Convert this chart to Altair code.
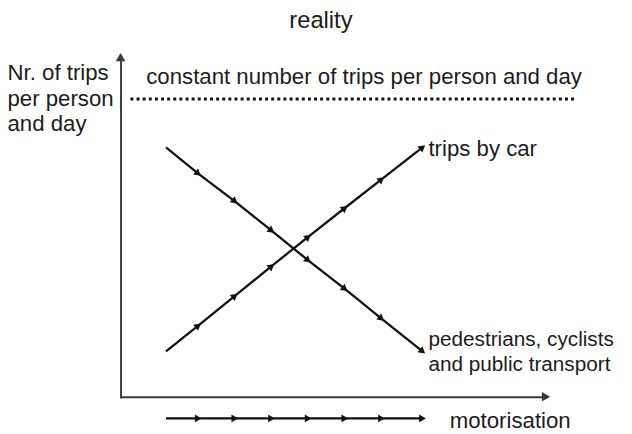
import altair as alt
import pandas as pd

# ---- data (schematic values) ----
# motorisation level of the line start, the arrowheads along the lines, and the line end
motorisation = [0.0, 0.88, 1.88, 2.88, 3.88, 4.88, 5.88, 7.0]
trips_car = [1.0, 1.88, 2.90, 3.92, 4.93, 5.92, 6.90, 8.0]
trips_other = [8.0, 7.10, 6.15, 5.14, 4.12, 3.14, 2.12, 1.0]
constant_trips = 9.66
constant_span = [-0.97, 11.17]
motorisation_arrow_level = -1.305

series_names = ["trips by car", "pedestrians, cyclists and public transport"]
constant_label = "constant number of trips per person and day"
car_label = "trips by car"
other_label = ["pedestrians, cyclists", "and public transport"]
y_title = ["Nr. of trips", "per person", "and day"]
x_title = "motorisation"
chart_title = "reality"

x_domain = [-1.24, 10.37]
y_domain = [-0.56, 11.10]

FONT = "Liberation Sans"
FS = 22.5
TXT = "#1c1c1c"
INK = "#111111"
AXIS = "#3a3a3a"

# ---- tables ----
lines = pd.DataFrame(
    [{"series": series_names[0], "x": m, "y": v} for m, v in zip(motorisation, trips_car)]
    + [{"series": series_names[1], "x": m, "y": v} for m, v in zip(motorisation, trips_other)]
)
car_marks = pd.DataFrame({"x": motorisation[1:], "y": trips_car[1:]})
other_marks = pd.DataFrame({"x": motorisation[1:], "y": trips_other[1:]})
const_df = pd.DataFrame({"x": constant_span, "y": [constant_trips] * 2})
mot_line = pd.DataFrame({"x": [motorisation[0], motorisation[-1]], "y": [motorisation_arrow_level] * 2})
mot_marks = pd.DataFrame({"x": motorisation[1:], "y": [motorisation_arrow_level] * (len(motorisation) - 1)})
axis_heads = pd.DataFrame({
    "x": [x_domain[1], x_domain[0]],
    "y": [y_domain[0], y_domain[1]],
    "shape": ["triangle-right", "triangle-up"],
})
car_lab = pd.DataFrame({"x": [motorisation[-1]], "y": [trips_car[-1]], "t": [car_label]})
other_lab = pd.DataFrame({"x": [motorisation[-1]], "y": [trips_other[-1]]})
const_lab = pd.DataFrame({"x": [constant_span[0]], "y": [constant_trips], "t": [constant_label]})

X = alt.X(
    "x:Q",
    scale=alt.Scale(domain=x_domain, nice=False, zero=False),
    axis=alt.Axis(
        title=x_title, domain=True, ticks=False, labels=False, grid=False,
        titleX=333, titleY=31, titleAlign="left", titleBaseline="alphabetic",
        titleAnchor="start",
    ),
)
Y = alt.Y(
    "y:Q",
    scale=alt.Scale(domain=y_domain, nice=False, zero=False),
    axis=alt.Axis(
        title=y_title, domain=True, ticks=False, labels=False, grid=False,
        titleAngle=0, titleX=-115, titleY=23, titleAlign="left",
        titleBaseline="alphabetic", titleLineHeight=25.8, titleAnchor="start",
    ),
)

ANG = 38.46
HEAD = 62

line_layer = alt.Chart(lines).mark_line(color=INK, strokeWidth=2.3).encode(
    x=X, y=Y, detail="series:N"
)
car_heads = alt.Chart(car_marks).mark_point(
    shape="triangle-up", angle=90 - ANG, filled=True, size=HEAD, color=INK, opacity=1
).encode(x=X, y=Y)
other_heads = alt.Chart(other_marks).mark_point(
    shape="triangle-right", angle=ANG, filled=True, size=HEAD, color=INK, opacity=1
).encode(x=X, y=Y)
dotted = alt.Chart(const_df).mark_line(
    color=INK, strokeWidth=3, strokeDash=[3, 3.2]
).encode(x=X, y=Y)
mot = alt.Chart(mot_line).mark_line(color=INK, strokeWidth=2.3).encode(x=X, y=Y)
mot_heads = alt.Chart(mot_marks).mark_point(
    shape="triangle-right", filled=True, size=HEAD, color=INK, opacity=1
).encode(x=X, y=Y)
ax_heads = alt.Chart(axis_heads).mark_point(
    filled=True, size=95, color=AXIS, opacity=1
).encode(x=X, y=Y, shape=alt.Shape("shape:N", scale=None))

car_text = alt.Chart(car_lab).mark_text(
    align="left", baseline="alphabetic", dx=6, dy=8.5, fontSize=FS, font=FONT, color=TXT
).encode(x=X, y=Y, text="t:N")
other_text = alt.Chart(other_lab).mark_text(
    align="left", baseline="alphabetic", dx=6, dy=-5, fontSize=21, font=FONT, color=TXT,
    lineHeight=25, text=other_label,
).encode(x=X, y=Y)
const_text = alt.Chart(const_lab).mark_text(
    align="left", baseline="alphabetic", dx=16, dy=-15.5, fontSize=FS, font=FONT, color=TXT
).encode(x=X, y=Y, text="t:N")

chart = alt.layer(
    dotted, line_layer, car_heads, other_heads, mot, mot_heads, ax_heads,
    car_text, other_text, const_text,
).properties(
    width=431,
    height=344,
    padding={"left": 114, "top": 47, "right": 79, "bottom": 35},
    autosize=alt.AutoSizeParams(type="none"),
    title=alt.TitleParams(
        text=chart_title, fontSize=24, font=FONT, fontWeight="normal", color=TXT,
        anchor="middle", frame="group", dx=-12.5, baseline="alphabetic", offset=1,
    ),
).configure_view(stroke=None).configure_axis(
    domainColor=AXIS, domainWidth=2, domainCap="square",
    titleFont=FONT, titleFontSize=FS, titleFontWeight="normal", titleColor=TXT,
)

chart.save("out.html", embed_options={"renderer": "svg", "actions": False})
